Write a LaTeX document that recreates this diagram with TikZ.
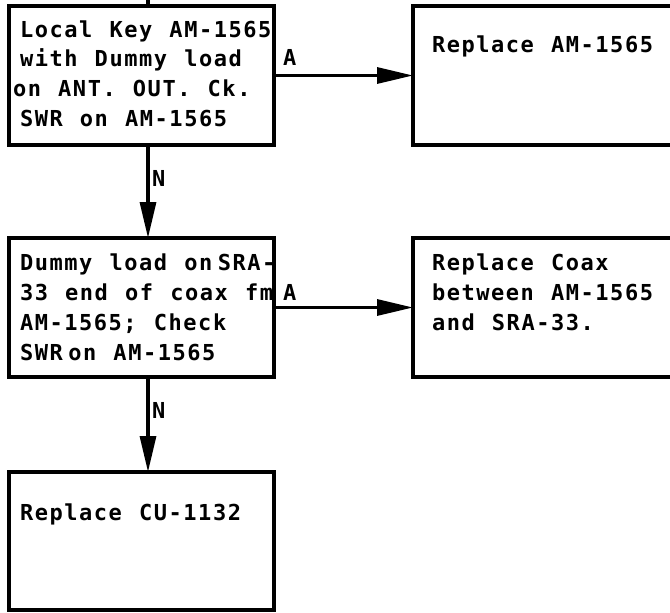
\documentclass[tikz,border=0pt]{standalone}
\usepackage{fontspec}
\newfontfamily\tw[LetterSpace=7]{DejaVu Sans Mono}
\newcommand\widesp{\spaceskip=0.78em\relax}
\usetikzlibrary{arrows.meta}
\begin{document}
\begin{tikzpicture}[x=1pt,y=-1pt,
  box/.style={draw, line width=3.2pt, inner sep=0pt, outer sep=0pt},
  txt/.style={anchor=base west, inner sep=0pt, outer sep=0pt, text width=300pt, align=left,
              font=\tw\bfseries\fontsize{22}{30}\selectfont},
  lbl/.style={anchor=base west, inner sep=0pt, font=\tw\bfseries\fontsize{22}{30}\selectfont},
  arr/.style={line width=3.2pt, -{Triangle[length=36pt,width=16pt]}},
  plain/.style={line width=3.2pt}]
\useasboundingbox[fill=white] (0,0) rectangle (670,613);
% boxes
\node[box, minimum width=265pt, minimum height=139pt] (b1) at (141.5,75.5) {};
\node[box, minimum width=267pt, minimum height=139pt] (b2) at (546.5,75.5) {};
\node[box, minimum width=265pt, minimum height=139pt] (b3) at (141.5,307.5) {};
\node[box, minimum width=267pt, minimum height=139pt] (b4) at (546.5,307.5) {};
\node[box, minimum width=265pt, minimum height=138pt] (b5) at (141.5,541) {};
% texts
\node[txt] (t1) at (20,37) {\widesp Local Key AM-1565\\with Dummy load\\\hspace*{-7pt}on ANT. OUT. Ck.\\SWR on AM-1565};
\node[txt] (t2) at (432,52) {\widesp Replace AM-1565};
\node[txt] (t3) at (20,270) {\widesp Dummy load on\hspace{0.25em}SRA-\\33 end of coax fm\\AM-1565; Check\\SWR\hspace{0.25em}on AM-1565};
\node[txt] (t4) at (432,270) {\widesp Replace Coax\\between AM-1565\\and SRA-33.};
\node[txt] (t5) at (20,520) {\widesp Replace CU-1132};
% connectors
\coordinate (top) at (148,-3);
\draw[plain] (top) -- ([xshift=6.5pt]b1.north);
\draw[arr] (b1.east) -- (b2.west);
\draw[arr] (b3.east) -- (b4.west);
\draw[arr] ([xshift=6.5pt]b1.south) -- ([xshift=6.5pt]b3.north);
\draw[arr] ([xshift=6.5pt]b3.south) -- ([xshift=6.5pt]b5.north);
% labels
\node[lbl] (a1) at (283,65) {A};
\node[lbl] (a2) at (283,300) {A};
\node[lbl] (n1) at (152,186) {N};
\node[lbl] (n2) at (152,418) {N};
\end{tikzpicture}
\end{document}
